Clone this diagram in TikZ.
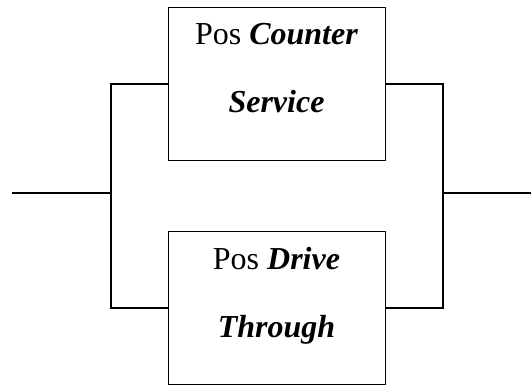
\documentclass[tikz,border=0pt]{standalone}
\usepackage{fontspec}
\setmainfont{Liberation Serif}
\tikzset{
	posbox/.style={draw,line width=0.5pt,minimum width=108.5pt,minimum height=76.5pt,
		align=center,inner sep=0pt,text depth=16pt,font=\fontsize{16}{34}\selectfont},
	wire/.style={line width=0.75pt}
}
\newcommand{\kind}[1]{\textbf{\textit{#1}}}
\begin{document}
\begin{tikzpicture}[x=0.5pt,y=-0.5pt]
		\useasboundingbox (0,0) rectangle (531,385);
		% the two parallel stations
		\node[posbox] (counter) at (276.5,84) {Pos \kind{Counter}\\ \kind{Service}};
		\node[posbox] (drive) at (276.5,308) {Pos \kind{Drive}\\ \kind{Through}};
		% branch points
		\coordinate (in) at (12,193);
		\coordinate (split) at (111,193);
		\coordinate (join) at (443,193);
		\coordinate (out) at (531,193);
		% wiring
		\draw[wire] (in) -- (split);
		\draw[wire] (counter.west) -| (split) |- (drive.west);
		\draw[wire] (counter.east) -| (join) |- (drive.east);
		\draw[wire] (join) -- (out);
	\end{tikzpicture}
\end{document}
